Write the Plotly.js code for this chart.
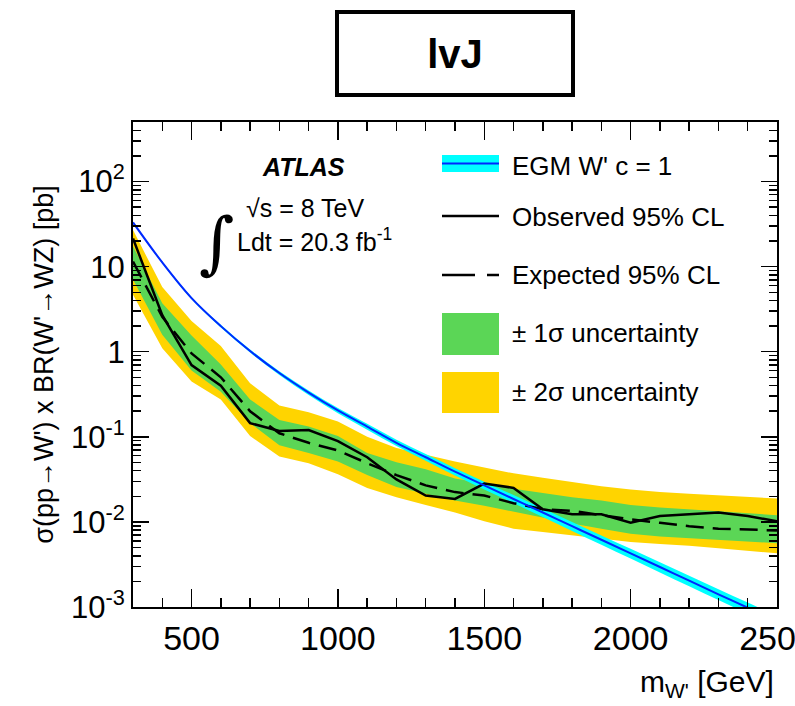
<!DOCTYPE html>
<html>
<head>
<meta charset="utf-8">
<script src="https://cdn.plot.ly/plotly-3.0.1.min.js"></script>
<style>html,body{margin:0;padding:0;background:#fff;}#chart{width:795px;height:706px;}</style>
</head>
<body>
<div id="chart"></div>
<script>
// W' mass points [GeV]
const masses = [300,400,500,600,700,800,900,1000,1100,1200,1300,1400,1500,1600,1700,1800,1900,2000,2100,2200,2300,2400,2500];
// Observed 95% CL limit [pb]
const observed = [21.4,2.69,0.698,0.398,0.145,0.117,0.120,0.0891,0.0575,0.0316,0.0204,0.0186,0.0282,0.0251,0.0141,0.0123,0.0123,0.00977,0.0117,0.0123,0.0129,0.0117,0.0102];
// Expected 95% CL limit [pb]
const expected = [11.5,2.57,0.955,0.501,0.200,0.110,0.0851,0.0692,0.0490,0.0355,0.0269,0.0224,0.0204,0.0166,0.0141,0.0135,0.0120,0.0107,0.00977,0.00891,0.00832,0.00813,0.00794];
// +/- 1 sigma band
const sig1Up = [17.4,3.72,1.55,0.708,0.275,0.158,0.132,0.102,0.0646,0.0501,0.0417,0.0324,0.0282,0.0245,0.0219,0.0195,0.0178,0.0158,0.0148,0.0141,0.0132,0.0126,0.0120];
const sig1Dn = [7.08,1.58,0.603,0.339,0.145,0.0794,0.0646,0.0513,0.0355,0.0257,0.0214,0.0178,0.0155,0.0132,0.0112,0.00955,0.00832,0.00724,0.00676,0.00646,0.00617,0.00589,0.00562];
// +/- 2 sigma band
const sig2Up = [26.9,5.75,2.29,1.17,0.427,0.234,0.195,0.151,0.100,0.0741,0.0617,0.0513,0.0437,0.0372,0.0331,0.0295,0.0263,0.0240,0.0224,0.0214,0.0204,0.0195,0.0188];
const sig2Dn = [4.68,1.10,0.447,0.275,0.102,0.0589,0.0490,0.0363,0.0251,0.0195,0.0158,0.0129,0.0102,0.00832,0.00759,0.00692,0.00631,0.00582,0.00550,0.00525,0.00490,0.00457,0.00427];
// EGM W' (c = 1) theory cross section [pb] and its relative uncertainty
const egm = [33.1,11.2,4.27,2.0,1.02,0.562,0.331,0.204,0.132,0.0851,0.0575,0.0389,0.0269,0.0186,0.0129,0.00891,0.00617,0.00427,0.00295,0.00204,0.00141,0.00098,0.00068];
const egmRelUnc = [0.02,0.025,0.03,0.035,0.04,0.05,0.06,0.07,0.08,0.085,0.09,0.10,0.105,0.11,0.115,0.12,0.125,0.13,0.135,0.14,0.145,0.15,0.155];
// Axis ticks
const yTickVals = [0.001,0.01,0.1,1,10,100];
const yTickText = ['10<sup>-3</sup>','10<sup>-2</sup>','10<sup>-1</sup>','1','10','10<sup>2</sup>'];
const xTickVals = [500,1000,1500,2000,2500];
const xTickText = ['500','1000','1500','2000','2500'];

const egmLo = egm.map((v,i)=>v*(1-egmRelUnc[i]));
const egmHi = egm.map((v,i)=>v*(1+egmRelUnc[i]));

const YELLOW = 'rgb(255,212,0)';
const GREEN = 'rgb(91,214,86)';
const CYAN = 'rgb(0,255,255)';
const BLUE = 'rgb(0,40,255)';
const FONT = '"Liberation Sans", Arial, Helvetica, sans-serif';

const traces = [
  {x: masses, y: sig2Dn, mode:'lines', line:{width:0, color:YELLOW}, showlegend:false, hoverinfo:'skip'},
  {x: masses, y: sig2Up, mode:'lines', line:{width:0, color:YELLOW}, fill:'tonexty', fillcolor:YELLOW, name:'± 2σ uncertainty', showlegend:false},
  {x: masses, y: sig1Dn, mode:'lines', line:{width:0, color:GREEN}, showlegend:false, hoverinfo:'skip'},
  {x: masses, y: sig1Up, mode:'lines', line:{width:0, color:GREEN}, fill:'tonexty', fillcolor:GREEN, name:'± 1σ uncertainty', showlegend:false},
  {x: masses, y: egmLo, mode:'lines', line:{width:0, color:CYAN, shape:'spline'}, showlegend:false, hoverinfo:'skip'},
  {x: masses, y: egmHi, mode:'lines', line:{width:0, color:CYAN, shape:'spline'}, fill:'tonexty', fillcolor:CYAN, showlegend:false, hoverinfo:'skip'},
  {x: masses, y: expected, mode:'lines', line:{color:'black', width:2.5, dash:'18px,9px'}, name:'Expected 95% CL', showlegend:false},
  {x: masses, y: observed, mode:'lines', line:{color:'black', width:2.5}, name:'Observed 95% CL', showlegend:false},
  {x: masses, y: egm, mode:'lines', line:{color:BLUE, width:2, shape:'spline'}, name:"EGM W' c = 1", showlegend:false}
];

// plot area in pixels: x 133..777, y 122..607
const PL=133, PR=777, PT=122, PB=607;
const px = v => (v-PL)/(PR-PL);
const py = v => (PB-v)/(PB-PT);

const legX0 = px(442), legX1 = px(499);
const shapes = [
  {type:'rect', xref:'paper', yref:'paper', x0:px(442), x1:px(499), y0:py(172), y1:py(155), fillcolor:CYAN, line:{width:0}},
  {type:'line', xref:'paper', yref:'paper', x0:legX0, x1:legX1, y0:py(163.5), y1:py(163.5), line:{color:BLUE, width:2}},
  {type:'line', xref:'paper', yref:'paper', x0:legX0, x1:legX1, y0:py(216), y1:py(216), line:{color:'black', width:2.5}},
  {type:'line', xref:'paper', yref:'paper', x0:legX0, x1:legX1, y0:py(275), y1:py(275), line:{color:'black', width:2.5, dash:'33px,12px'}},
  {type:'rect', xref:'paper', yref:'paper', x0:legX0, x1:legX1, y0:py(355), y1:py(313), fillcolor:GREEN, line:{width:0}},
  {type:'rect', xref:'paper', yref:'paper', x0:legX0, x1:legX1, y0:py(413), y1:py(372), fillcolor:YELLOW, line:{width:0}},
  // title box
  {type:'rect', xref:'paper', yref:'paper', x0:px(337), x1:px(573), y0:py(95), y1:py(12), line:{color:'black', width:4}, fillcolor:'rgba(0,0,0,0)'}
];

const legTxt = (t, y) => ({xref:'paper', yref:'paper', x:px(510), y:py(y), xanchor:'left', yanchor:'middle', showarrow:false, text:t, font:{family:FONT, size:26, color:'black'}});

const annotations = [
  legTxt("EGM W' c = 1", 166),
  legTxt('Observed 95% CL', 217),
  legTxt('Expected 95% CL', 275),
  legTxt('± 1σ uncertainty', 333),
  legTxt('± 2σ uncertainty', 392),
  {xref:'paper', yref:'paper', x:px(303), y:py(167), xanchor:'center', yanchor:'middle', showarrow:false, text:'<b><i>ATLAS</i></b>', font:{family:FONT, size:25, color:'black'}},
  {xref:'paper', yref:'paper', x:px(244), y:py(208), xanchor:'left', yanchor:'middle', showarrow:false, text:'√s = 8 TeV', font:{family:FONT, size:25, color:'black'}},
  {xref:'paper', yref:'paper', x:px(235), y:py(240), xanchor:'left', yanchor:'middle', showarrow:false, text:'Ldt = 20.3 fb<sup>-1</sup>', font:{family:FONT, size:25, color:'black'}},
  {xref:'paper', yref:'paper', x:px(216), y:py(242), xanchor:'center', yanchor:'middle', showarrow:false, text:'∫', font:{family:'"DejaVu Serif", serif', size:68, color:'black'}},
  {xref:'paper', yref:'paper', x:px(776), y:py(684), xanchor:'right', yanchor:'middle', showarrow:false, text:"m<sub>W'</sub> [GeV]", font:{family:FONT, size:30, color:'black'}}
];

const layout = {
  width:795, height:706,
  margin:{l:PL, r:795-PR, t:PT, b:706-PB, pad:0},
  paper_bgcolor:'white', plot_bgcolor:'white',
  showlegend:false,
  title:{text:'<b>lvJ</b>', x:455/795, xanchor:'center', y:1-54/706, yanchor:'middle', font:{family:FONT, size:40, color:'black'}},
  xaxis:{
    type:'linear', range:[300,2500], showgrid:false, zeroline:false,
    showline:true, linecolor:'black', linewidth:2, mirror:'allticks',
    ticks:'inside', ticklen:18, tickwidth:1.5, tickcolor:'black',
    tickmode:'array', tickvals:xTickVals, ticktext:xTickText,
    ticklabeloverflow:'allow',
    tickfont:{family:FONT, size:34, color:'black'},
    minor:{ticks:'inside', ticklen:9, tickwidth:1.5, tickcolor:'black', dtick:100, tick0:300, showgrid:false}
  },
  yaxis:{
    type:'log', range:[-3, 2.7], showgrid:false, zeroline:false,
    showline:true, linecolor:'black', linewidth:2, mirror:'allticks',
    ticks:'inside', ticklen:16, tickwidth:1.5, tickcolor:'black',
    tickmode:'array', tickvals:yTickVals, ticktext:yTickText,
    ticklabeloverflow:'allow',
    tickfont:{family:FONT, size:31, color:'black'},
    minor:{ticks:'inside', ticklen:8, tickwidth:1.5, tickcolor:'black', dtick:'D1', showgrid:false},
    title:{text:"σ(pp→W') x BR(W'→WZ) [pb]", font:{family:FONT, size:27, color:'black'}, standoff:10}
  },
  shapes: shapes,
  annotations: annotations
};

Plotly.newPlot('chart', traces, layout, {staticPlot:true, displayModeBar:false});
</script>
</body>
</html>
